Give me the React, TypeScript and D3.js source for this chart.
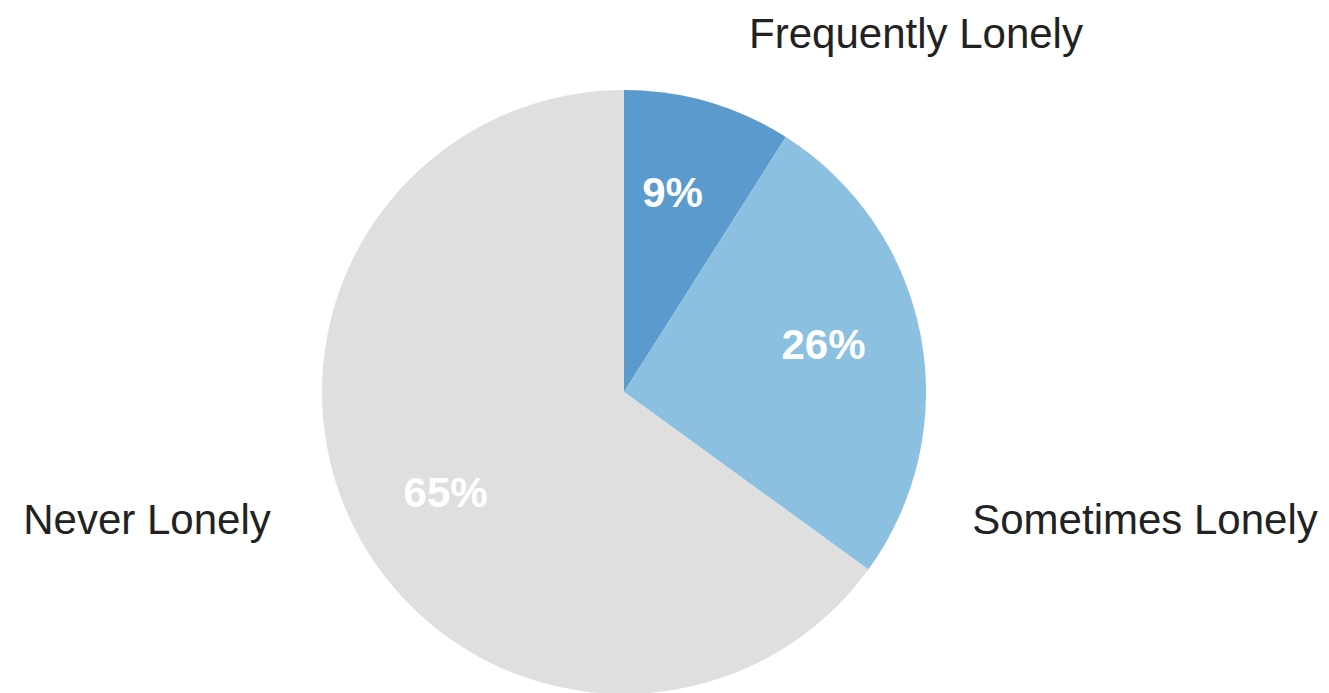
import React from "react";
import * as d3 from "d3";

const categories = ["Frequently Lonely", "Sometimes Lonely", "Never Lonely"];
const values = [9, 26, 65];
const colors = ["#5b9acd", "#8cc0e1", "#dfdfdf"];

const W = 1329;
const H = 693;

export default function App() {
  const cx = 624;
  const cy = 392;
  const R = 302;
  const data = categories.map((c, i) => ({ c, v: values[i], i }));
  const pie = d3.pie<any>().value((d) => d.v).sort(null);
  const arcs = pie(data);
  const arc = d3.arc<any>().innerRadius(0).outerRadius(R);
  const labelR = 205;
  const angleShift = (-2.5 * Math.PI) / 180;
  const outer = [
    { x: 916, y: 48, anchor: "middle" },
    { x: 1145, y: 534, anchor: "middle" },
    { x: 147, y: 534, anchor: "middle" },
  ];
  return (
    <svg
      width={W}
      height={H}
      style={{ position: "absolute", left: 0, top: 0, background: "#fff" }}
      fontFamily="'Liberation Sans', Arial, sans-serif"
    >
      <g transform={`translate(${cx},${cy})`}>
        {arcs.map((a, i) => (
          <path key={i} d={arc(a) as string} fill={colors[i]} />
        ))}
        {arcs.map((a, i) => {
          const mid = (a.startAngle + a.endAngle) / 2 + angleShift;
          const x = labelR * Math.sin(mid);
          const y = -labelR * Math.cos(mid);
          return (
            <text
              key={"p" + i}
              x={x}
              y={y}
              textAnchor="middle"
              dominantBaseline="central"
              fill="#fff"
              fontWeight="bold"
              fontSize={42}
            >
              {`${values[i]}%`}
            </text>
          );
        })}
      </g>
      {categories.map((c, i) => (
        <text
          key={"l" + i}
          x={outer[i].x}
          y={outer[i].y}
          textAnchor={outer[i].anchor as any}
          fill="#222"
          fontSize={42}
        >
          {c}
        </text>
      ))}
    </svg>
  );
}
